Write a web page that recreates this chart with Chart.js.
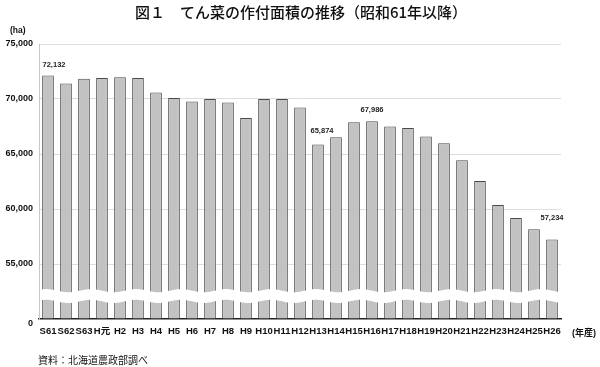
<!DOCTYPE html>
<html><head><meta charset="utf-8">
<script src="https://cdn.jsdelivr.net/npm/chart.js@4.4.1/dist/chart.umd.min.js"></script>
<style>html,body{margin:0;padding:0;background:#fff;} #wrap{width:600px;height:367px;position:relative;}</style>
</head><body><div id="wrap"><canvas id="c" width="600" height="367"></canvas></div>
<script>
const categories = ['S61','S62','S63','H元','H2','H3','H4','H5','H6','H7','H8','H9','H10','H11','H12','H13','H14','H15','H16','H17','H18','H19','H20','H21','H22','H23','H24','H25','H26'];
const areaHa = [72132,71400,71830,71920,71980,71920,70590,70100,69770,70000,69680,68280,70000,70000,69220,65874,66520,67880,67986,67500,67370,66580,65980,64430,62550,60370,59190,58160,57234];
const yAxisMin = 50000;
const yAxisMax = 75000;
const yStep = 5000;
const labelledCategories = ['S61','H13','H16','H26'];
const titleText = '図１　てん菜の作付面積の推移（昭和61年以降）';
const yUnitText = '(ha)';
const xUnitText = '(年産)';
const sourceText = '資料：北海道農政部調べ';
const zeroText = '0';

const latin = "'Liberation Sans Narrow','Liberation Sans','Noto Sans CJK JP',sans-serif";
const labelOffsets = { S61:{dx:6,dy:11}, H13:{dx:4,dy:13}, H16:{dx:0,dy:11}, H26:{dx:0,dy:21} };

const decorPlugin = {
  id: 'decor',
  afterDatasetsDraw(chart) {
    const ctx = chart.ctx, a = chart.chartArea;
    const topC = a.bottom - 28.3, botC = a.bottom - 17.6, amp = 1.6, per = 45, ph = 46;
    ctx.save();
    ctx.fillStyle = '#ffffff';
    ctx.beginPath();
    const L = a.left + 1, R = a.right;
    for (let x = L; x <= R; x++) {
      const y = topC - amp * Math.cos(2 * Math.PI * (x - ph) / per);
      if (x === L) ctx.moveTo(x, y); else ctx.lineTo(x, y);
    }
    for (let x = R; x >= L; x--) {
      const y = botC - amp * Math.cos(2 * Math.PI * (x - ph) / per);
      ctx.lineTo(x, y);
    }
    ctx.closePath();
    ctx.fill();
    const meta = chart.getDatasetMeta(0);
    ctx.fillStyle = '#222';
    ctx.font = "bold 7.5px 'Liberation Sans',sans-serif";
    ctx.textAlign = 'center';
    ctx.textBaseline = 'middle';
    labelledCategories.forEach(cat => {
      const i = categories.indexOf(cat);
      const bar = meta.data[i];
      const o = labelOffsets[cat];
      ctx.fillText(areaHa[i].toLocaleString('en-US'), bar.x + o.dx, bar.y - o.dy);
    });
    ctx.restore();
  },
  afterDraw(chart) {
    const ctx = chart.ctx, a = chart.chartArea;
    ctx.save();
    ctx.fillStyle = '#111';
    ctx.textBaseline = 'middle';
    ctx.textAlign = 'center';
    ctx.font = "500 15px 'Noto Sans CJK JP',sans-serif";
    ctx.fillText(titleText, 301, 12);
    ctx.textAlign = 'left';
    ctx.font = "bold 8.5px " + latin;
    ctx.fillText(yUnitText, 10, 31);
    ctx.font = "bold 9px 'Liberation Sans','Noto Sans CJK JP',sans-serif";
    ctx.fillText(xUnitText, 572, 334);
    ctx.font = "10px 'Noto Sans CJK JP',sans-serif";
    ctx.fillText(sourceText, 38, 360);
    ctx.textAlign = 'right';
    ctx.font = "bold 9px 'Liberation Sans',sans-serif";
    ctx.fillText(zeroText, a.left - 6, a.bottom + 5);
    ctx.restore();
  }
};

new Chart(document.getElementById('c'), {
  type: 'bar',
  data: {
    labels: categories,
    datasets: [{
      data: areaHa,
      base: yAxisMin,
      backgroundColor: '#c2c2c2',
      borderColor: '#4a4a4a',
      borderWidth: 1,
      borderSkipped: 'start',
      barPercentage: 0.65,
      categoryPercentage: 1
    }]
  },
  options: {
    responsive: false,
    animation: false,
    events: [],
    layout: { padding: { left: 0, right: 39, top: 44, bottom: 28 } },
    plugins: { legend: { display: false }, tooltip: { enabled: false }, title: { display: false } },
    scales: {
      x: {
        grid: { display: false, drawTicks: false },
        border: { display: true, color: '#222', width: 1.5 },
        ticks: { autoSkip: false, maxRotation: 0, minRotation: 0, padding: 7, color: '#111',
                 font: { family: latin, size: 9.5, weight: 'bold' } },
        afterFit(s) { s.height = 20; }
      },
      y: {
        min: yAxisMin, max: yAxisMax,
        ticks: { stepSize: yStep, padding: 6, color: '#111',
                 font: { family: "'Liberation Sans',sans-serif", size: 9, weight: 'bold' },
                 callback: v => v === yAxisMin ? '' : v.toLocaleString('en-US') },
        grid: { drawTicks: false, color: ctx => ctx.tick && ctx.tick.value === yAxisMin ? 'rgba(0,0,0,0)' : '#dedede' },
        border: { display: true, color: '#c8c8c8', width: 1 },
        afterFit(s) { s.width = 39; }
      }
    }
  },
  plugins: [decorPlugin]
});
</script>
</body></html>
